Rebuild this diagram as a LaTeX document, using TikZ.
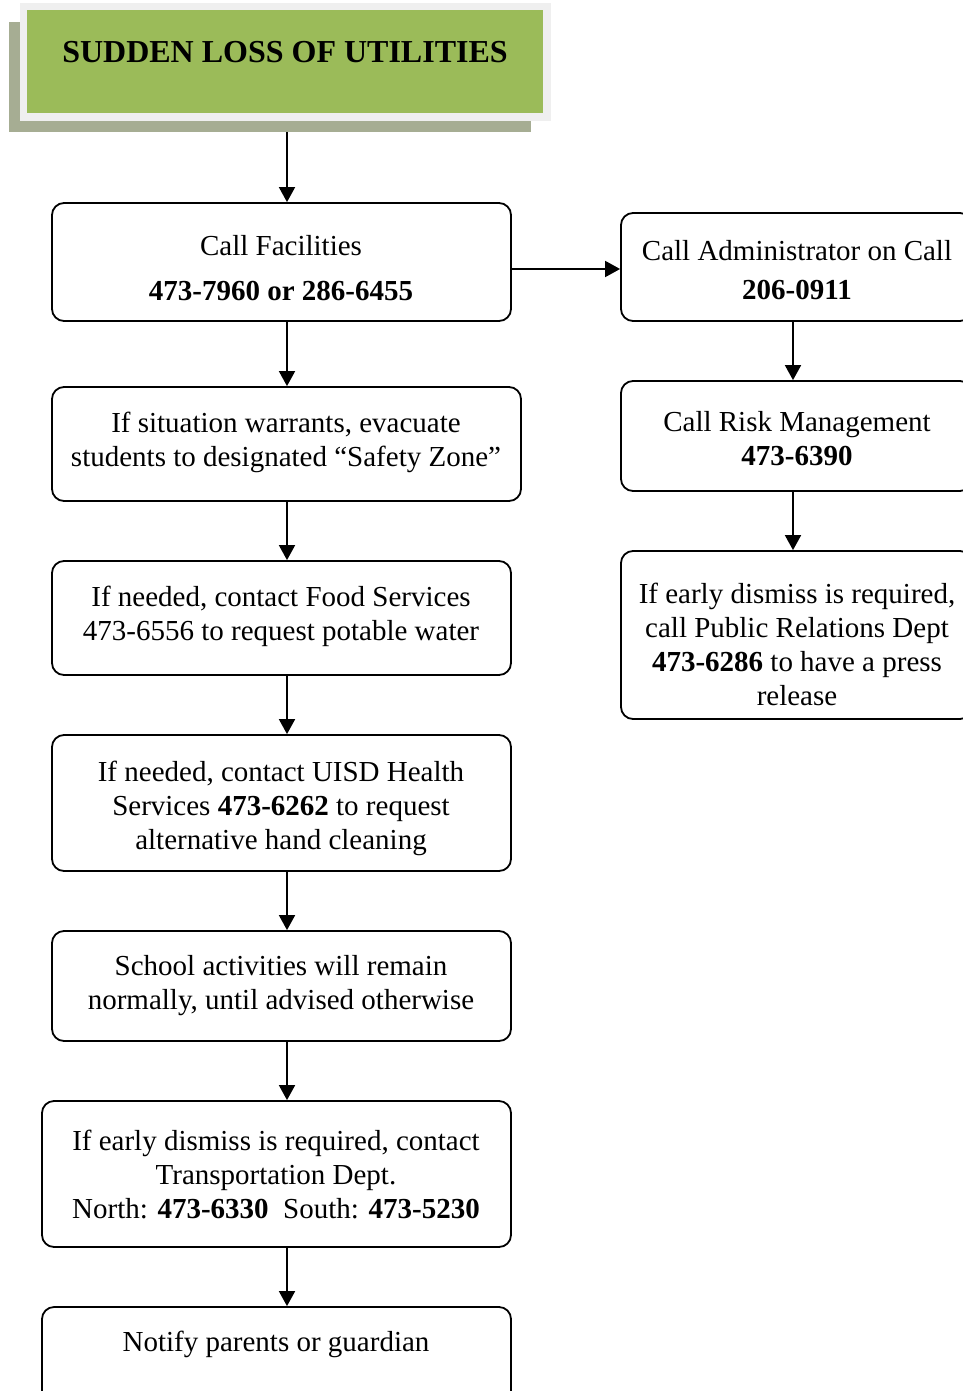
\documentclass[tikz,border=0pt]{standalone}
\usepackage{fontspec}
\setmainfont{Liberation Serif}
\usetikzlibrary{arrows.meta}
\definecolor{titlegreen}{HTML}{9BBB59}
\definecolor{titleframe}{HTML}{EFEFEF}
\definecolor{titleshadow}{HTML}{A6AD93}
\begin{document}
\begin{tikzpicture}[x=1pt,y=-1pt,
  box/.style={draw, line width=1.8pt, rounded corners=12pt, inner sep=0pt},
  txt/.style={align=center, inner sep=0pt, font=\fontsize{29}{34}\selectfont},
  arr/.style={-{Triangle[length=15pt,width=16pt]}, line width=1.8pt}]
\useasboundingbox (0,0) rectangle (963,1391);
\begin{scope}
\clip (0,0) rectangle (963,1391);

% title banner: shadow, light frame, green panel
\node[fill=titleshadow, minimum width=522, minimum height=110, inner sep=0pt] (shadow) at (270,77) {};
\node[fill=titleframe, minimum width=531, minimum height=118, inner sep=0pt] (frame) at (285.5,62) {};
\node[fill=titlegreen, minimum width=516, minimum height=103, inner sep=0pt] (title) at (285,61.5) {};
\node[inner sep=0pt, font=\bfseries\fontsize{32}{38}\selectfont] (titletext) at (285,52) {SUDDEN LOSS OF UTILITIES};

% main column
\node[box, minimum width=459, minimum height=118] (b1) at (281.5,262) {};
\node[box, minimum width=469, minimum height=114] (b2) at (286.5,444) {};
\node[box, minimum width=459, minimum height=114] (b3) at (281.5,618) {};
\node[box, minimum width=459, minimum height=136] (b4) at (281.5,803) {};
\node[box, minimum width=459, minimum height=110] (b5) at (281.5,986) {};
\node[box, minimum width=469, minimum height=146] (b6) at (276.5,1174) {};
\node[box, minimum width=469, minimum height=113] (b7) at (276.5,1363.5) {};

\node[txt] (t1) at (281,268) {Call Facilities\\[11pt]\textbf{473-7960 or 286-6455}};
\node[txt] (t2) at (286,442) {If situation warrants, evacuate\\students to designated “Safety Zone”};
\node[txt] (t3) at (281,616) {If needed, contact Food Services\\473-6556 to request potable water};
\node[txt] (t4) at (281,808) {If needed, contact UISD Health\\Services \textbf{473-6262} to request\\alternative hand cleaning};
\node[txt] (t5) at (281,986) {School activities will remain\\normally, until advised otherwise};
\node[txt] (t6) at (276,1174) {If early dismiss is required, contact\\Transportation Dept.\\North: \textbf{473-6330}\ \ South: \textbf{473-5230}};
\node[txt] (t7) at (276,1344) {Notify parents or guardian};

% side column
\node[box, minimum width=351, minimum height=108] (r1) at (796.5,267) {};
\node[box, minimum width=351, minimum height=110] (r2) at (796.5,436) {};
\node[box, minimum width=351, minimum height=168] (r3) at (796.5,635) {};

\node[txt] (s1) at (797,270) {Call Administrator on Call\\[5pt]\textbf{206-0911}};
\node[txt] (s2) at (797,439) {Call Risk Management\\\textbf{473-6390}};
\node[txt] (s3) at (797,644) {If early dismiss is required,\\call Public Relations Dept\\\textbf{473-6286} to have a press\\release};

% connectors
\coordinate (spine) at (287,0);
\coordinate (rspine) at (793,0);
\coordinate (hy) at (0,269);
\draw[arr] (spine |- shadow.south) -- (spine |- b1.north);
\draw[arr] (spine |- b1.south) -- (spine |- b2.north);
\draw[arr] (spine |- b2.south) -- (spine |- b3.north);
\draw[arr] (spine |- b3.south) -- (spine |- b4.north);
\draw[arr] (spine |- b4.south) -- (spine |- b5.north);
\draw[arr] (spine |- b5.south) -- (spine |- b6.north);
\draw[arr] (spine |- b6.south) -- (spine |- b7.north);
\draw[arr] (b1.east |- hy) -- (r1.west |- hy);
\draw[arr] (rspine |- r1.south) -- (rspine |- r2.north);
\draw[arr] (rspine |- r2.south) -- (rspine |- r3.north);
\end{scope}
\end{tikzpicture}
\end{document}
